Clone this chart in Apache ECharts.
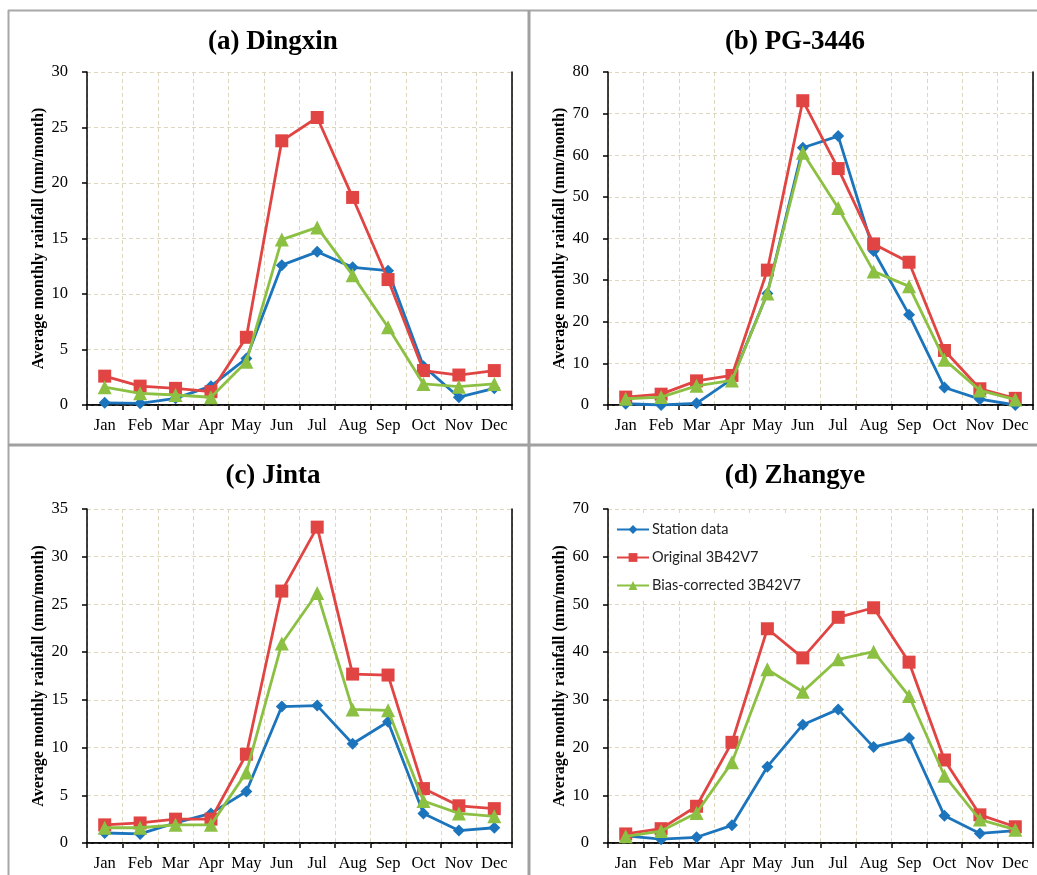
<!DOCTYPE html>
<html>
<head>
<meta charset="utf-8">
<script src="https://cdn.jsdelivr.net/npm/echarts@6/dist/echarts.min.js"></script>
<style>
  html, body { margin: 0; padding: 0; background: #fff; }
  #view { width: 1037px; height: 875px; }
</style>
</head>
<body>
<div id="view"></div>
<script>
var months = ['Jan', 'Feb', 'Mar', 'Apr', 'May', 'Jun', 'Jul', 'Aug', 'Sep', 'Oct', 'Nov', 'Dec'];
var seriesNames = ['Station data', 'Original 3B42V7', 'Bias-corrected 3B42V7'];
var panelTitles = ['(a) Dingxin', '(b) PG-3446', '(c) Jinta', '(d) Zhangye'];
var yMax = [30, 80, 35, 70];
var yStep = [5, 10, 5, 10];

// (a) Dingxin
var dingxinStation = [0.2, 0.15, 0.6, 1.7, 4.2, 12.6, 13.8, 12.4, 12.1, 3.5, 0.7, 1.5];
var dingxinOriginal = [2.6, 1.7, 1.5, 1.2, 6.1, 23.8, 25.9, 18.7, 11.3, 3.1, 2.7, 3.1];
var dingxinCorrected = [1.6, 1.05, 0.9, 0.7, 3.9, 14.9, 16.0, 11.7, 7.0, 1.9, 1.65, 1.9];
// (b) PG-3446
var pgStation = [0.3, 0, 0.4, 6.2, 26.8, 61.8, 64.6, 37.0, 21.7, 4.2, 1.4, 0];
var pgOriginal = [1.9, 2.6, 5.8, 7.1, 32.4, 73.1, 56.8, 38.7, 34.3, 13.1, 3.9, 1.6];
var pgCorrected = [1.5, 1.9, 4.6, 5.9, 26.8, 60.6, 47.3, 32.1, 28.5, 10.9, 3.5, 1.3];
// (c) Jinta
var jintaStation = [1.05, 0.95, 2.1, 3.1, 5.4, 14.3, 14.4, 10.4, 12.7, 3.1, 1.3, 1.6];
var jintaOriginal = [1.9, 2.1, 2.5, 2.5, 9.3, 26.4, 33.1, 17.7, 17.6, 5.7, 3.9, 3.6];
var jintaCorrected = [1.6, 1.6, 1.9, 1.9, 7.4, 20.9, 26.2, 14.0, 13.9, 4.4, 3.1, 2.8];
// (d) Zhangye
var zhangyeStation = [1.5, 0.8, 1.2, 3.7, 16.0, 24.8, 28.0, 20.1, 22.0, 5.7, 2.0, 2.6];
var zhangyeOriginal = [1.9, 3.0, 7.7, 21.1, 44.9, 38.8, 47.3, 49.3, 37.9, 17.4, 5.9, 3.4];
var zhangyeCorrected = [1.4, 2.5, 6.3, 16.9, 36.4, 31.7, 38.5, 40.1, 30.8, 14.1, 4.9, 2.8];

var panelData = [
    [dingxinStation, dingxinOriginal, dingxinCorrected],
    [pgStation, pgOriginal, pgCorrected],
    [jintaStation, jintaOriginal, jintaCorrected],
    [zhangyeStation, zhangyeOriginal, zhangyeCorrected]
];

var colors = ['#1c75bc', '#e04543', '#8cc043'];
var symbols = ['diamond', 'rect', 'triangle'];
var symbolSizes = [12, 13, 14];

// plot areas and title centres
var grids = [
    {left: 87, top: 72, width: 425, height: 333},
    {left: 608, top: 72, width: 425, height: 333},
    {left: 87, top: 509, width: 425, height: 334},
    {left: 608, top: 509, width: 425, height: 334}
];
var titlePos = [[268, 24], [790, 24], [268, 458], [790, 458]];

var serif = '"Liberation Serif", "Times New Roman", serif';
var gridLine = {show: true, lineStyle: {color: '#ddd7bd', type: [4, 3], width: 1}};

var option = {
    backgroundColor: '#fff',
    animation: false,
    title: [],
    grid: grids,
    xAxis: [],
    yAxis: [],
    series: [],
    legend: {
        data: seriesNames,
        orient: 'vertical',
        left: 610,
        top: 516,
        itemWidth: 32,
        itemHeight: 11,
        itemGap: 13,
        backgroundColor: '#fff',
        padding: [6, 8, 8, 6],
        z: 20,
        textStyle: {fontFamily: 'Lato, "Liberation Sans", sans-serif', fontSize: 14.5, color: '#222', padding: [0, 0, 0, -2]}
    },
    graphic: [
        // panel borders
        {type: 'line', shape: {x1: 8, y1: 10.5, x2: 1037, y2: 10.5}, style: {stroke: '#a8a8a8', lineWidth: 2}},
        {type: 'line', shape: {x1: 8.5, y1: 10, x2: 8.5, y2: 875}, style: {stroke: '#a8a8a8', lineWidth: 2}},
        {type: 'line', shape: {x1: 529, y1: 10, x2: 529, y2: 875}, style: {stroke: '#a0a0a0', lineWidth: 3}},
        {type: 'line', shape: {x1: 8, y1: 445, x2: 1037, y2: 445}, style: {stroke: '#a0a0a0', lineWidth: 3}}
    ]
};

for (var i = 0; i < 4; i++) {
    option.title.push({
        text: panelTitles[i],
        left: titlePos[i][0],
        top: titlePos[i][1],
        textAlign: 'center',
        textStyle: {fontFamily: serif, fontWeight: 'bold', fontSize: 27, color: '#000'}
    });
    // bottom category axis
    option.xAxis.push({
        type: 'category',
        gridIndex: i,
        data: months,
        boundaryGap: true,
        z: 1,
        axisLine: {lineStyle: {color: '#000', width: 1.5}},
        axisTick: {show: true, inside: false, length: 5, lineStyle: {color: '#000', width: 1.5}},
        axisLabel: {interval: 0, margin: 12, fontFamily: serif, fontSize: 16.5, color: '#000'},
        splitLine: gridLine
    });
    // top frame
    option.xAxis.push({
        type: 'category',
        gridIndex: i,
        data: months,
        position: 'top',
        z: 3,
        axisLine: {lineStyle: {color: '#000', width: 1.5}},
        axisTick: {show: false},
        axisLabel: {show: false},
        splitLine: {show: false}
    });
    option.yAxis.push({
        type: 'value',
        gridIndex: i,
        min: 0,
        max: yMax[i],
        interval: yStep[i],
        z: 2,
        name: 'Average monthly rainfall (mm/month)',
        nameLocation: 'middle',
        nameGap: 40,
        nameTextStyle: {fontFamily: serif, fontWeight: 'bold', fontSize: 16, color: '#000'},
        axisLine: {show: true, lineStyle: {color: '#000', width: 1.5}},
        axisTick: {show: true, inside: false, length: 5, lineStyle: {color: '#000', width: 1.5}},
        axisLabel: {margin: 19, fontFamily: serif, fontSize: 16.5, color: '#000'},
        splitLine: gridLine
    });
    // right frame
    option.yAxis.push({
        type: 'value',
        gridIndex: i,
        min: 0,
        max: yMax[i],
        interval: yStep[i],
        position: 'right',
        z: 3,
        axisLine: {show: true, lineStyle: {color: '#000', width: 1.5}},
        axisTick: {show: false},
        axisLabel: {show: false},
        splitLine: {show: false}
    });
    for (var s = 0; s < 3; s++) {
        option.series.push({
            name: seriesNames[s],
            type: 'line',
            xAxisIndex: i * 2,
            yAxisIndex: i * 2,
            data: panelData[i][s],
            z: 10 + s,
            symbol: symbols[s],
            symbolSize: symbolSizes[s],
            showAllSymbol: true,
            color: colors[s],
            itemStyle: {color: colors[s]},
            lineStyle: {color: colors[s], width: 2.8}
        });
    }
}

var myChart = echarts.init(document.getElementById('view'));
myChart.setOption(option);
</script>
</body>
</html>
